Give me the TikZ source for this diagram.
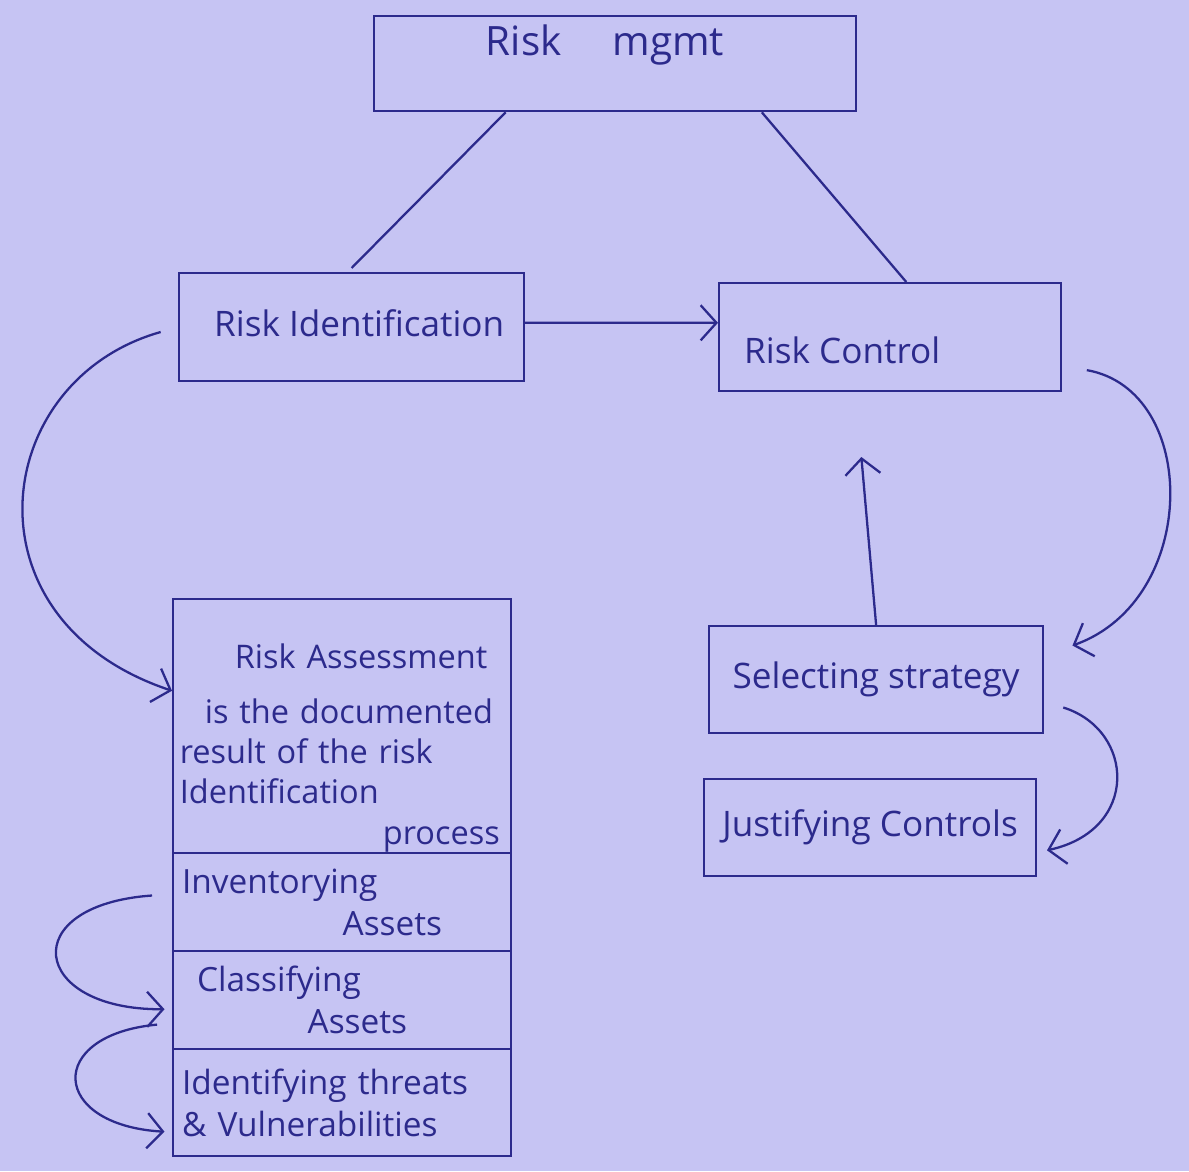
\documentclass[tikz,border=0pt]{standalone}
\usepackage{fontspec}
\setmainfont{Open Sans}
\usetikzlibrary{arrows.meta,calc}
\definecolor{paper}{RGB}{198,196,243}
\definecolor{ink}{RGB}{44,42,140}
\begin{document}
\begin{tikzpicture}[x=0.02cm,y=-0.02cm,
  box/.style={draw=ink, line width=1.3pt, text=ink, inner sep=0.15cm, font=\fontsize{19}{24}\selectfont},
  lbl/.style={text=ink, font=\fontsize{20}{24}\selectfont},
  conn/.style={draw=ink, line width=1.3pt},
  arr/.style={conn, -{Straight Barb[length=9pt,width=20pt,line width=1.3pt]}}]
\path[use as bounding box, fill=paper] (0,0) rectangle (1189,1171);

% top-level boxes
\node[box, minimum width=9.64cm, minimum height=1.9cm, anchor=north west] (mgmt) at (373,15) {};
\node[lbl, font=\fontsize{23}{26}\selectfont] (mgmtt) at (605,45) {Risk \quad mgmt};
\node[box, minimum width=6.9cm, minimum height=2.16cm, anchor=north west] (rid) at (178,272) {};
\node[lbl, anchor=west] (ridt) at (208,323) {Risk Identification};
\node[box, minimum width=6.84cm, minimum height=2.16cm, anchor=north west] (rc) at (718,282) {};
\node[lbl, anchor=west] (rct) at (738,350) {Risk Control};

% left stack
\node[box, minimum width=6.76cm, minimum height=5.08cm, anchor=north west] (ra) at (172,598) {};
\node[lbl, font=\fontsize{18.5}{23}\selectfont, anchor=north west, text width=6.4cm, align=left, inner sep=0.15cm] (rat) at (172,636)
  {\hspace*{1.1cm}Risk Assessment\\[8pt] \hspace*{0.5cm}is the documented\\ result of the risk\\ Identification\\ \hspace*{\fill}process};
\node[box, minimum width=6.76cm, minimum height=1.96cm, anchor=north west, text width=6.4cm, align=left] (inv) at (172,852)
  {Inventorying\\ \hspace*{\fill}Assets\hspace*{1.2cm}};
\node[box, minimum width=6.76cm, minimum height=1.96cm, anchor=north west, text width=6.4cm, align=left] (cls) at (172,950)
  {\hspace*{0.3cm}Classifying\\ \hspace*{\fill}Assets\hspace*{1.9cm}};
\node[box, minimum width=6.76cm, minimum height=2.14cm, anchor=north west, text width=6.4cm, align=left] (thr) at (172,1048)
  {Identifying threats\\ \& Vulnerabilities};

% right stack
\node[box, font=\fontsize{20}{24}\selectfont, minimum width=6.68cm, minimum height=2.14cm, anchor=north west] (sel) at (708,625) {Selecting strategy};
\node[box, font=\fontsize{20}{24}\selectfont, minimum width=6.64cm, minimum height=1.94cm, anchor=north west] (jus) at (703,778) {Justifying Controls};

% connectors
\draw[conn] ($(mgmt.south west)!0.274!(mgmt.south east)$) -- ([yshift=0.08cm]rid.north);
\draw[conn] ($(mgmt.south west)!0.803!(mgmt.south east)$) -- ($(rc.north west)!0.547!(rc.north east)$);
\draw[arr] ($(rid.north east)!0.46!(rid.south east)$) -- ($(rc.north west)!0.37!(rc.south west)$);
\draw[arr, shorten <=0.36cm] (rid.west) .. controls (-10,380) and (-40,620) .. ($(ra.north west)!0.362!(ra.south west)$);
\draw[arr, shorten <=0.5cm, shorten >=0.6cm] ($(rc.north east)!0.76!(rc.south east)$) .. controls (1200,390) and (1200,600) .. ($(sel.north east)!0.28!(sel.south east)$);
\draw[arr, shorten >=1.3cm] (sel.north) -- ($(rc.south west)!0.4!(rc.south east)$);
\draw[arr, shorten <=0.4cm, shorten >=0.2cm] ($(sel.north east)!0.7!(sel.south east)$) .. controls (1135,730) and (1140,830) .. ($(jus.north east)!0.75!(jus.south east)$);
\draw[arr, shorten <=0.4cm, shorten >=0.15cm] ($(inv.north west)!0.42!(inv.south west)$) .. controls (15,905) and (30,1010) .. ($(cls.north west)!0.59!(cls.south west)$);
\draw[arr, shorten <=0.3cm, shorten >=0.15cm] ($(cls.north west)!0.73!(cls.south west)$) .. controls (45,1035) and (50,1125) .. ($(thr.north west)!0.77!(thr.south west)$);
\end{tikzpicture}
\end{document}
